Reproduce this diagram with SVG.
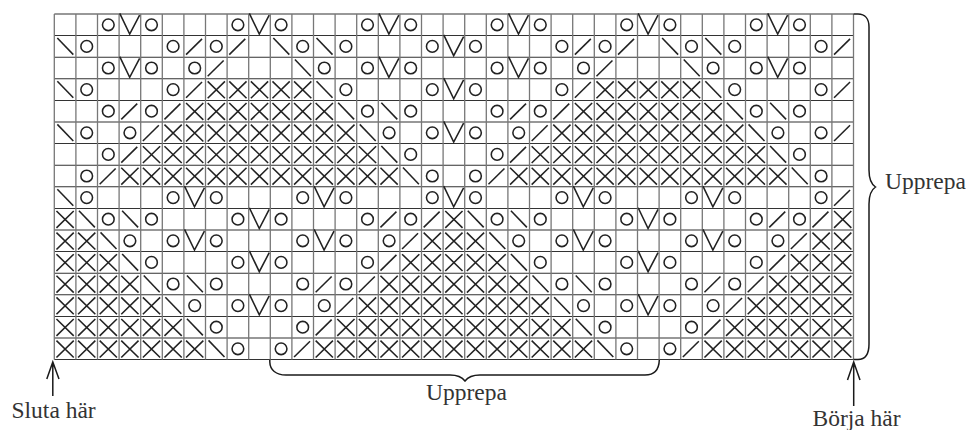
<svg xmlns="http://www.w3.org/2000/svg" width="966" height="430" viewBox="0 0 966 430">
<style>
.s{fill:none;stroke:#222;stroke-width:.072;stroke-linecap:butt}
.gv{fill:none;stroke:#777;stroke-width:.06}
.gh{fill:none;stroke:#333;stroke-width:.048}
.c{fill:none;stroke:#1a1a1a;stroke-width:1.5}
.t{font-family:"Liberation Serif","Times New Roman",serif;font-size:23.5px;fill:#333}
</style>
<defs>
<circle id="o" class="s" cx=".5" cy=".5" r=".27"/>
<path id="x" class="s" d="M.1 .12L.9 .9M.9 .12L.1 .9"/>
<path id="b" class="s" d="M.14 .11L.88 .88"/>
<path id="f" class="s" d="M.1 .88L.84 .15"/>
<path id="v" class="s" d="M.03 -.03L.49 .93L.95 .05"/>
</defs>
<rect width="966" height="430" fill="#fff"/>
<g id="chart" transform="translate(54.3 14) scale(21.6)">
<path class="gh" d="M0 0H37M0 1H37M0 2H37M0 3H37M0 4H37M0 5H37M0 6H37M0 7H37M0 8H37M0 9H37M0 10H37M0 11H37M0 12H37M0 13H37M0 14H37M0 15H37M0 16H37"/>
<path class="gv" d="M0 0V16M1 0V16M2 0V16M3 0V16M4 0V16M5 0V16M6 0V16M7 0V16M8 0V16M9 0V16M10 0V16M11 0V16M12 0V16M13 0V16M14 0V16M15 0V16M16 0V16M17 0V16M18 0V16M19 0V16M20 0V16M21 0V16M22 0V16M23 0V16M24 0V16M25 0V16M26 0V16M27 0V16M28 0V16M29 0V16M30 0V16M31 0V16M32 0V16M33 0V16M34 0V16M35 0V16M36 0V16M37 0V16"/>
<g id="r1"><use href="#o" x="2"/><use href="#v" x="3"/><use href="#o" x="4"/><use href="#o" x="8"/><use href="#v" x="9"/><use href="#o" x="10"/><use href="#o" x="14"/><use href="#v" x="15"/><use href="#o" x="16"/><use href="#o" x="20"/><use href="#v" x="21"/><use href="#o" x="22"/><use href="#o" x="26"/><use href="#v" x="27"/><use href="#o" x="28"/><use href="#o" x="32"/><use href="#v" x="33"/><use href="#o" x="34"/></g>
<g id="r2" transform="translate(0 1)"><use href="#b" x="0"/><use href="#o" x="1"/><use href="#o" x="5"/><use href="#f" x="6"/><use href="#o" x="7"/><use href="#f" x="8"/><use href="#b" x="10"/><use href="#o" x="11"/><use href="#b" x="12"/><use href="#o" x="13"/><use href="#o" x="17"/><use href="#v" x="18"/><use href="#o" x="19"/><use href="#o" x="23"/><use href="#f" x="24"/><use href="#o" x="25"/><use href="#f" x="26"/><use href="#b" x="28"/><use href="#o" x="29"/><use href="#b" x="30"/><use href="#o" x="31"/><use href="#o" x="35"/><use href="#f" x="36"/></g>
<g id="r3" transform="translate(0 2)"><use href="#o" x="2"/><use href="#v" x="3"/><use href="#o" x="4"/><use href="#o" x="6"/><use href="#f" x="7"/><use href="#b" x="11"/><use href="#o" x="12"/><use href="#o" x="14"/><use href="#v" x="15"/><use href="#o" x="16"/><use href="#o" x="20"/><use href="#v" x="21"/><use href="#o" x="22"/><use href="#o" x="24"/><use href="#f" x="25"/><use href="#b" x="29"/><use href="#o" x="30"/><use href="#o" x="32"/><use href="#v" x="33"/><use href="#o" x="34"/></g>
<g id="r4" transform="translate(0 3)"><use href="#b" x="0"/><use href="#o" x="1"/><use href="#o" x="5"/><use href="#f" x="6"/><use href="#x" x="7"/><use href="#x" x="8"/><use href="#x" x="9"/><use href="#x" x="10"/><use href="#x" x="11"/><use href="#b" x="12"/><use href="#o" x="13"/><use href="#o" x="17"/><use href="#v" x="18"/><use href="#o" x="19"/><use href="#o" x="23"/><use href="#f" x="24"/><use href="#x" x="25"/><use href="#x" x="26"/><use href="#x" x="27"/><use href="#x" x="28"/><use href="#x" x="29"/><use href="#b" x="30"/><use href="#o" x="31"/><use href="#o" x="35"/><use href="#f" x="36"/></g>
<g id="r5" transform="translate(0 4)"><use href="#o" x="2"/><use href="#f" x="3"/><use href="#o" x="4"/><use href="#f" x="5"/><use href="#x" x="6"/><use href="#x" x="7"/><use href="#x" x="8"/><use href="#x" x="9"/><use href="#x" x="10"/><use href="#x" x="11"/><use href="#x" x="12"/><use href="#b" x="13"/><use href="#o" x="14"/><use href="#b" x="15"/><use href="#o" x="16"/><use href="#o" x="20"/><use href="#f" x="21"/><use href="#o" x="22"/><use href="#f" x="23"/><use href="#x" x="24"/><use href="#x" x="25"/><use href="#x" x="26"/><use href="#x" x="27"/><use href="#x" x="28"/><use href="#x" x="29"/><use href="#x" x="30"/><use href="#b" x="31"/><use href="#o" x="32"/><use href="#b" x="33"/><use href="#o" x="34"/></g>
<g id="r6" transform="translate(0 5)"><use href="#b" x="0"/><use href="#o" x="1"/><use href="#o" x="3"/><use href="#f" x="4"/><use href="#x" x="5"/><use href="#x" x="6"/><use href="#x" x="7"/><use href="#x" x="8"/><use href="#x" x="9"/><use href="#x" x="10"/><use href="#x" x="11"/><use href="#x" x="12"/><use href="#x" x="13"/><use href="#b" x="14"/><use href="#o" x="15"/><use href="#o" x="17"/><use href="#v" x="18"/><use href="#o" x="19"/><use href="#o" x="21"/><use href="#f" x="22"/><use href="#x" x="23"/><use href="#x" x="24"/><use href="#x" x="25"/><use href="#x" x="26"/><use href="#x" x="27"/><use href="#x" x="28"/><use href="#x" x="29"/><use href="#x" x="30"/><use href="#x" x="31"/><use href="#b" x="32"/><use href="#o" x="33"/><use href="#o" x="35"/><use href="#f" x="36"/></g>
<g id="r7" transform="translate(0 6)"><use href="#o" x="2"/><use href="#f" x="3"/><use href="#x" x="4"/><use href="#x" x="5"/><use href="#x" x="6"/><use href="#x" x="7"/><use href="#x" x="8"/><use href="#x" x="9"/><use href="#x" x="10"/><use href="#x" x="11"/><use href="#x" x="12"/><use href="#x" x="13"/><use href="#x" x="14"/><use href="#b" x="15"/><use href="#o" x="16"/><use href="#o" x="20"/><use href="#f" x="21"/><use href="#x" x="22"/><use href="#x" x="23"/><use href="#x" x="24"/><use href="#x" x="25"/><use href="#x" x="26"/><use href="#x" x="27"/><use href="#x" x="28"/><use href="#x" x="29"/><use href="#x" x="30"/><use href="#x" x="31"/><use href="#x" x="32"/><use href="#b" x="33"/><use href="#o" x="34"/></g>
<g id="r8" transform="translate(0 7)"><use href="#o" x="1"/><use href="#f" x="2"/><use href="#x" x="3"/><use href="#x" x="4"/><use href="#x" x="5"/><use href="#x" x="6"/><use href="#x" x="7"/><use href="#x" x="8"/><use href="#x" x="9"/><use href="#x" x="10"/><use href="#x" x="11"/><use href="#x" x="12"/><use href="#x" x="13"/><use href="#x" x="14"/><use href="#x" x="15"/><use href="#b" x="16"/><use href="#o" x="17"/><use href="#o" x="19"/><use href="#f" x="20"/><use href="#x" x="21"/><use href="#x" x="22"/><use href="#x" x="23"/><use href="#x" x="24"/><use href="#x" x="25"/><use href="#x" x="26"/><use href="#x" x="27"/><use href="#x" x="28"/><use href="#x" x="29"/><use href="#x" x="30"/><use href="#x" x="31"/><use href="#x" x="32"/><use href="#x" x="33"/><use href="#b" x="34"/><use href="#o" x="35"/></g>
<g id="r9" transform="translate(0 8)"><use href="#b" x="0"/><use href="#o" x="1"/><use href="#o" x="5"/><use href="#v" x="6"/><use href="#o" x="7"/><use href="#o" x="11"/><use href="#v" x="12"/><use href="#o" x="13"/><use href="#o" x="17"/><use href="#v" x="18"/><use href="#o" x="19"/><use href="#o" x="23"/><use href="#v" x="24"/><use href="#o" x="25"/><use href="#o" x="29"/><use href="#v" x="30"/><use href="#o" x="31"/><use href="#o" x="35"/><use href="#f" x="36"/></g>
<g id="r10" transform="translate(0 9)"><use href="#x" x="0"/><use href="#b" x="1"/><use href="#o" x="2"/><use href="#b" x="3"/><use href="#o" x="4"/><use href="#o" x="8"/><use href="#v" x="9"/><use href="#o" x="10"/><use href="#o" x="14"/><use href="#f" x="15"/><use href="#o" x="16"/><use href="#f" x="17"/><use href="#x" x="18"/><use href="#b" x="19"/><use href="#o" x="20"/><use href="#b" x="21"/><use href="#o" x="22"/><use href="#o" x="26"/><use href="#v" x="27"/><use href="#o" x="28"/><use href="#o" x="32"/><use href="#f" x="33"/><use href="#o" x="34"/><use href="#f" x="35"/><use href="#x" x="36"/></g>
<g id="r11" transform="translate(0 10)"><use href="#x" x="0"/><use href="#x" x="1"/><use href="#b" x="2"/><use href="#o" x="3"/><use href="#o" x="5"/><use href="#v" x="6"/><use href="#o" x="7"/><use href="#o" x="11"/><use href="#v" x="12"/><use href="#o" x="13"/><use href="#o" x="15"/><use href="#f" x="16"/><use href="#x" x="17"/><use href="#x" x="18"/><use href="#x" x="19"/><use href="#b" x="20"/><use href="#o" x="21"/><use href="#o" x="23"/><use href="#v" x="24"/><use href="#o" x="25"/><use href="#o" x="29"/><use href="#v" x="30"/><use href="#o" x="31"/><use href="#o" x="33"/><use href="#f" x="34"/><use href="#x" x="35"/><use href="#x" x="36"/></g>
<g id="r12" transform="translate(0 11)"><use href="#x" x="0"/><use href="#x" x="1"/><use href="#x" x="2"/><use href="#b" x="3"/><use href="#o" x="4"/><use href="#o" x="8"/><use href="#v" x="9"/><use href="#o" x="10"/><use href="#o" x="14"/><use href="#f" x="15"/><use href="#x" x="16"/><use href="#x" x="17"/><use href="#x" x="18"/><use href="#x" x="19"/><use href="#x" x="20"/><use href="#b" x="21"/><use href="#o" x="22"/><use href="#o" x="26"/><use href="#v" x="27"/><use href="#o" x="28"/><use href="#o" x="32"/><use href="#f" x="33"/><use href="#x" x="34"/><use href="#x" x="35"/><use href="#x" x="36"/></g>
<g id="r13" transform="translate(0 12)"><use href="#x" x="0"/><use href="#x" x="1"/><use href="#x" x="2"/><use href="#x" x="3"/><use href="#b" x="4"/><use href="#o" x="5"/><use href="#b" x="6"/><use href="#o" x="7"/><use href="#o" x="11"/><use href="#f" x="12"/><use href="#o" x="13"/><use href="#f" x="14"/><use href="#x" x="15"/><use href="#x" x="16"/><use href="#x" x="17"/><use href="#x" x="18"/><use href="#x" x="19"/><use href="#x" x="20"/><use href="#x" x="21"/><use href="#b" x="22"/><use href="#o" x="23"/><use href="#b" x="24"/><use href="#o" x="25"/><use href="#o" x="29"/><use href="#f" x="30"/><use href="#o" x="31"/><use href="#f" x="32"/><use href="#x" x="33"/><use href="#x" x="34"/><use href="#x" x="35"/><use href="#x" x="36"/></g>
<g id="r14" transform="translate(0 13)"><use href="#x" x="0"/><use href="#x" x="1"/><use href="#x" x="2"/><use href="#x" x="3"/><use href="#x" x="4"/><use href="#b" x="5"/><use href="#o" x="6"/><use href="#o" x="8"/><use href="#v" x="9"/><use href="#o" x="10"/><use href="#o" x="12"/><use href="#f" x="13"/><use href="#x" x="14"/><use href="#x" x="15"/><use href="#x" x="16"/><use href="#x" x="17"/><use href="#x" x="18"/><use href="#x" x="19"/><use href="#x" x="20"/><use href="#x" x="21"/><use href="#x" x="22"/><use href="#b" x="23"/><use href="#o" x="24"/><use href="#o" x="26"/><use href="#v" x="27"/><use href="#o" x="28"/><use href="#o" x="30"/><use href="#f" x="31"/><use href="#x" x="32"/><use href="#x" x="33"/><use href="#x" x="34"/><use href="#x" x="35"/><use href="#x" x="36"/></g>
<g id="r15" transform="translate(0 14)"><use href="#x" x="0"/><use href="#x" x="1"/><use href="#x" x="2"/><use href="#x" x="3"/><use href="#x" x="4"/><use href="#x" x="5"/><use href="#b" x="6"/><use href="#o" x="7"/><use href="#o" x="11"/><use href="#f" x="12"/><use href="#x" x="13"/><use href="#x" x="14"/><use href="#x" x="15"/><use href="#x" x="16"/><use href="#x" x="17"/><use href="#x" x="18"/><use href="#x" x="19"/><use href="#x" x="20"/><use href="#x" x="21"/><use href="#x" x="22"/><use href="#x" x="23"/><use href="#b" x="24"/><use href="#o" x="25"/><use href="#o" x="29"/><use href="#f" x="30"/><use href="#x" x="31"/><use href="#x" x="32"/><use href="#x" x="33"/><use href="#x" x="34"/><use href="#x" x="35"/><use href="#x" x="36"/></g>
<g id="r16" transform="translate(0 15)"><use href="#x" x="0"/><use href="#x" x="1"/><use href="#x" x="2"/><use href="#x" x="3"/><use href="#x" x="4"/><use href="#x" x="5"/><use href="#x" x="6"/><use href="#b" x="7"/><use href="#o" x="8"/><use href="#o" x="10"/><use href="#f" x="11"/><use href="#x" x="12"/><use href="#x" x="13"/><use href="#x" x="14"/><use href="#x" x="15"/><use href="#x" x="16"/><use href="#x" x="17"/><use href="#x" x="18"/><use href="#x" x="19"/><use href="#x" x="20"/><use href="#x" x="21"/><use href="#x" x="22"/><use href="#x" x="23"/><use href="#x" x="24"/><use href="#b" x="25"/><use href="#o" x="26"/><use href="#o" x="28"/><use href="#f" x="29"/><use href="#x" x="30"/><use href="#x" x="31"/><use href="#x" x="32"/><use href="#x" x="33"/><use href="#x" x="34"/><use href="#x" x="35"/><use href="#x" x="36"/></g>
</g>
<g id="connectors">
<path class="c" d="M853.5 14H858C865 14 869 19 869 27V170C869 179 871 184 875.5 187C871 190 869 195 869 204V344C869 354 865 359.5 858 359.5H853.5"/>
<path class="c" d="M269.8 360V362C270 370 276 375 286 375H450C457 375 462 377 465 381C468 377 473 375 480 375H645C654 375 659 370 659.3 360"/>
<path class="c" d="M52.8 396V362M46.8 379L52.8 362L59 379"/>
<path class="c" d="M853.7 406V362M847.5 380L853.7 362L860 380"/>
</g>
<text class="t" x="11.5" y="417.5">Sluta här</text>
<text class="t" x="426" y="400">Upprepa</text>
<text class="t" x="812.5" y="425.5">Börja här</text>
<text class="t" x="885" y="189">Upprepa</text>
</svg>
